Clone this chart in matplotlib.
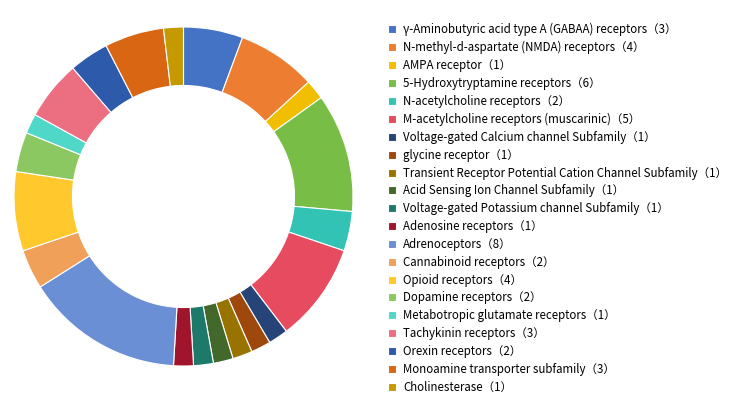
import matplotlib.pyplot as plt

plt.rcParams['font.family'] = ['Noto Sans CJK SC', 'DejaVu Sans']

names = ['γ-Aminobutyric acid type A (GABAA) receptors', 'N-methyl-d-aspartate (NMDA) receptors',
         'AMPA receptor', '5-Hydroxytryptamine receptors', 'N-acetylcholine receptors',
         'M-acetylcholine receptors (muscarinic)', 'Voltage-gated Calcium channel Subfamily',
         'glycine receptor', 'Transient Receptor Potential Cation Channel Subfamily',
         'Acid Sensing Ion Channel Subfamily', 'Voltage-gated Potassium channel Subfamily',
         'Adenosine receptors', 'Adrenoceptors', 'Cannabinoid receptors', 'Opioid receptors',
         'Dopamine receptors', 'Metabotropic glutamate receptors', 'Tachykinin receptors',
         'Orexin receptors', 'Monoamine transporter subfamily', 'Cholinesterase']
counts = [3, 4, 1, 6, 2, 5, 1, 1, 1, 1, 1, 1, 8, 2, 4, 2, 1, 3, 2, 3, 1]
colors = ['#4472C4', '#ED7D31', '#F2BE00', '#78BD45', '#33C3B5', '#E64B60', '#264478',
          '#9E480E', '#997300', '#43682B', '#1D7A6B', '#A0152B', '#6B8FD4', '#F1A05A',
          '#FFC92E', '#8CC861', '#4FD8C8', '#EB6F80', '#2E5AAC', '#D86613', '#C49A00']

fig = plt.figure(figsize=(7.29, 4.13), dpi=100)
ax = fig.add_axes([14/729, 47/413, 339/729, 339/413])
wedges, _ = ax.pie(counts, colors=colors, startangle=90, counterclock=False,
                   wedgeprops=dict(width=0.345, edgecolor='white', linewidth=0.8))
ax.set_xlim(-1, 1)
ax.set_ylim(-1, 1)
ax.set_aspect('equal')

labels = [f'{n}（{c}）' for n, c in zip(names, counts)]
fig.legend(wedges, labels, loc='upper left', bbox_to_anchor=(388/729, 1 - 23/413),
           frameon=False, fontsize=8.3, handlelength=0.7, handleheight=0.7,
           handletextpad=0.62, labelspacing=0.42, borderpad=0, borderaxespad=0)

fig.savefig('out.png', dpi=100)
